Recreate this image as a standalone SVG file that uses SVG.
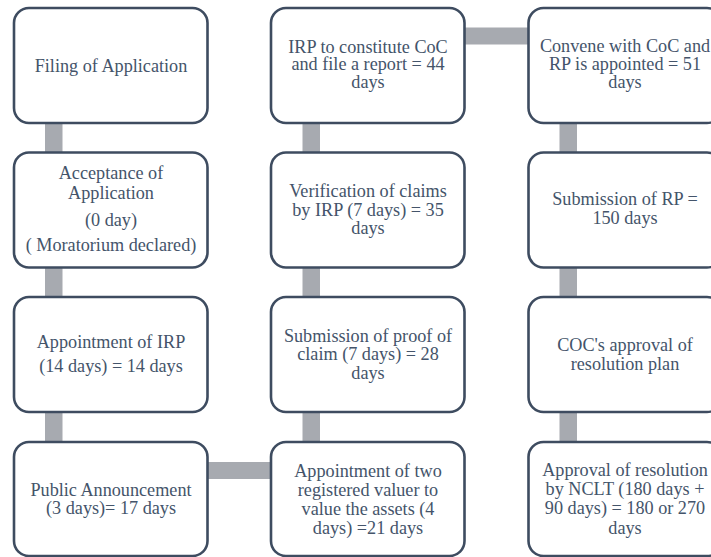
<svg xmlns="http://www.w3.org/2000/svg" width="711" height="557" viewBox="0 0 711 557">
<style>
.box{fill:#ffffff;stroke:#3e4c60;stroke-width:2.6}
.conn{fill:#a7aab0}
text{font-size:18.2px;fill:#44546a;text-anchor:middle}
</style>
<rect width="711" height="557" fill="#ffffff"/>
<g id="connectors">
<rect class="conn" x="45" y="120" width="17.5" height="35"/>
<rect class="conn" x="45" y="265" width="17.5" height="35"/>
<rect class="conn" x="45" y="410" width="17.5" height="35"/>
<rect class="conn" x="204" y="462" width="70" height="17"/>
<rect class="conn" x="302.5" y="410" width="17.5" height="35"/>
<rect class="conn" x="302.5" y="265" width="17.5" height="35"/>
<rect class="conn" x="302.5" y="120" width="17.5" height="35"/>
<rect class="conn" x="461" y="27.5" width="70" height="17"/>
<rect class="conn" x="559.5" y="120" width="17.5" height="35"/>
<rect class="conn" x="559.5" y="265" width="17.5" height="35"/>
<rect class="conn" x="559.5" y="410" width="17.5" height="35"/>
</g>
<g font-family="'Liberation Serif', Tinos, 'Times New Roman', 'DejaVu Serif', serif">
<g id="n1"><rect class="box" x="14" y="8" width="193.5" height="115" rx="15"/>
<text x="111" y="71.7">Filing of Application</text></g>
<g id="n2"><rect class="box" x="14" y="152.5" width="193.5" height="115" rx="15"/>
<text x="111" y="179.3">Acceptance of</text>
<text x="111" y="199">Application</text>
<text x="111" y="226">(0 day)</text>
<text x="111" y="251">( Moratorium declared)</text></g>
<g id="n3"><rect class="box" x="14" y="297" width="193.5" height="115" rx="15"/>
<text x="111" y="348.3">Appointment of IRP</text>
<text x="111" y="372.3">(14 days) = 14 days</text></g>
<g id="n4"><rect class="box" x="14" y="442" width="193.5" height="114" rx="15"/>
<text x="111" y="496">Public Announcement</text>
<text x="111" y="514">(3 days)= 17 days</text></g>
<g id="n5"><rect class="box" x="271" y="442" width="193.5" height="114" rx="15"/>
<text x="368" y="476.5">Appointment of two</text>
<text x="368" y="495.5">registered valuer to</text>
<text x="368" y="514.5">value the assets (4</text>
<text x="368" y="533.5">days) =21 days</text></g>
<g id="n6"><rect class="box" x="271" y="297" width="193.5" height="115" rx="15"/>
<text x="368" y="342">Submission of proof of</text>
<text x="368" y="360.3">claim (7 days) = 28</text>
<text x="368" y="378.7">days</text></g>
<g id="n7"><rect class="box" x="271" y="152.5" width="193.5" height="115" rx="15"/>
<text x="368" y="197">Verification of claims</text>
<text x="368" y="215.5">by IRP (7 days) = 35</text>
<text x="368" y="233.5">days</text></g>
<g id="n8"><rect class="box" x="271" y="8" width="193.5" height="115" rx="15"/>
<text x="368" y="52.7">IRP to constitute CoC</text>
<text x="368" y="70.3">and file a report = 44</text>
<text x="368" y="88">days</text></g>
<g id="n9"><rect class="box" x="528.5" y="8" width="193.5" height="115" rx="15"/>
<text x="625" y="52">Convene with CoC and</text>
<text x="625" y="70">RP is appointed = 51</text>
<text x="625" y="88.3">days</text></g>
<g id="n10"><rect class="box" x="528.5" y="152.5" width="193.5" height="115" rx="15"/>
<text x="625" y="205">Submission of RP =</text>
<text x="625" y="223.5">150 days</text></g>
<g id="n11"><rect class="box" x="528.5" y="297" width="193.5" height="115" rx="15"/>
<text x="625" y="351">COC's approval of</text>
<text x="625" y="370.3">resolution plan</text></g>
<g id="n12"><rect class="box" x="528.5" y="442" width="193.5" height="114" rx="15"/>
<text x="625" y="476">Approval of resolution</text>
<text x="625" y="495.3">by NCLT (180 days +</text>
<text x="625" y="514.3">90 days) = 180 or 270</text>
<text x="625" y="533.7">days</text></g>
</g>
</svg>
